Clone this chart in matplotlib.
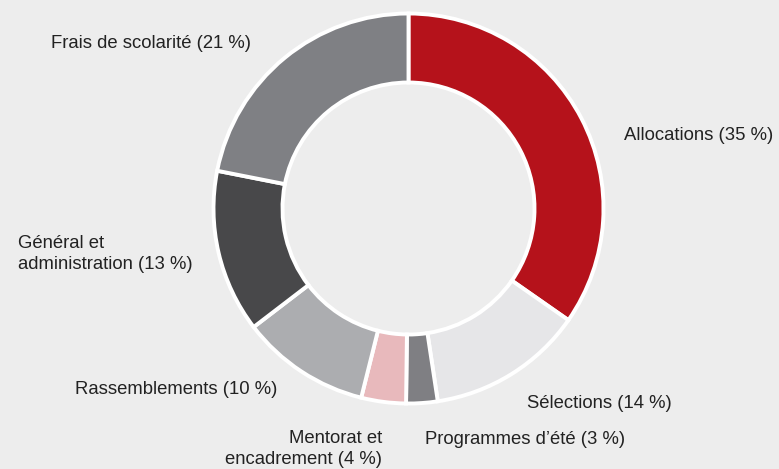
import matplotlib.pyplot as plt

labels = [
    "Allocations (35 %)",
    "Sélections (14 %)",
    "Programmes d’été (3 %)",
    "Mentorat et\nencadrement (4 %)",
    "Rassemblements (10 %)",
    "Général et\nadministration (13 %)",
    "Frais de scolarité (21 %)",
]
# slice sizes (labels are rounded)
shares = [34.7, 12.9, 2.6, 3.7, 10.7, 13.5, 21.9]
colors = ["#b5121b", "#e6e6e8", "#7f7f83", "#e8b9bc", "#acadb0", "#48484a", "#7f8084"]

# label anchor (x, y in pixels from top-left) and horizontal alignment
label_pos = [
    (624, 135, "left"),
    (527, 403, "left"),
    (425, 440, "left"),
    (382, 449, "right"),
    (277, 390, "right"),
    (18, 254, "left"),
    (251, 43, "right"),
]

W, H = 779, 469
bg = "#ededed"

plt.rcParams["font.family"] = ["Liberation Sans", "DejaVu Sans"]

fig = plt.figure(figsize=(W / 100, H / 100), dpi=100, facecolor=bg)
ax = fig.add_axes([0, 0, 1, 1])
ax.set_facecolor(bg)

cx, cy, r = 408.5, H - 208.5, 195
ax.pie(
    shares,
    colors=colors,
    startangle=90,
    counterclock=False,
    center=(cx, cy),
    radius=r,
    wedgeprops=dict(width=69, edgecolor="white", linewidth=2.8),
    frame=True,
)
ax.set_xlim(0, W)
ax.set_ylim(0, H)
ax.set_aspect("equal")
ax.axis("off")

for text, (x, y, ha) in zip(labels, label_pos):
    ax.text(x, H - y, text, ha=ha, va="center", fontsize=13.3, color="#222222",
            linespacing=1.3)

fig.savefig("out.png", dpi=100, facecolor=bg)
